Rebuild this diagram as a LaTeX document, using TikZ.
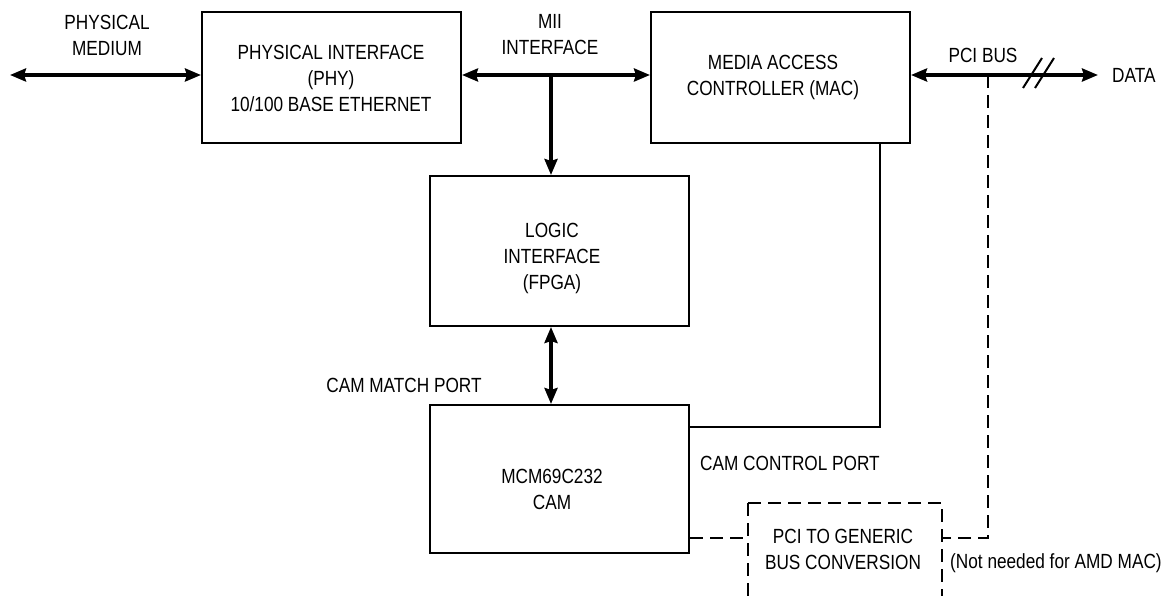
\documentclass[tikz,border=0pt]{standalone}
\usepackage{fontspec}
\setmainfont[FakeStretch=0.84]{Liberation Sans}
\usetikzlibrary{arrows.meta}
\begin{document}
\begin{tikzpicture}[x=1pt,y=-1pt,
  every node/.style={font=\fontsize{20.5}{26}\selectfont, inner sep=0pt},
  >={Stealth[length=16pt,width=13pt,inset=2pt]},
  box/.style={draw, line width=2pt, minimum width=259pt, minimum height=131pt, align=center},
  bus/.style={line width=4pt},
  wire/.style={line width=2pt},
  dwire/.style={line width=2pt, dash pattern=on 13pt off 7pt},
  lbl/.style={align=center}]
\useasboundingbox (0,0) rectangle (1176,596);

% blocks
\node[box] (phy) at (331.5,77.5) {};
\node[box] (mac) at (780.5,77.5) {};
\node[box, minimum height=150pt] (logic) at (559.5,251) {};
\node[box, minimum height=148pt] (cam) at (559.5,479) {};

% block texts
\node[lbl] (phyT) at (331,78) {PHYSICAL INTERFACE\\(PHY)\\10/100 BASE ETHERNET};
\node[lbl] (macT) at (773,77) {MEDIA ACCESS\\CONTROLLER (MAC)};
\node[lbl] (logicT) at (552,258) {LOGIC\\INTERFACE\\(FPGA)};
\node[lbl] (camT) at (552,489) {MCM69C232\\CAM};

% dashed conversion block
\draw[dwire] (748,503) -- (748,596);
\draw[dwire] (748,503) -- (942,503) -- (942,596);
\coordinate (convL) at (748,538);
\coordinate (convR) at (942,538);
\node[lbl] (convT) at (843,549) {PCI TO GENERIC\\BUS CONVERSION};

% coordinates
\coordinate (pmEnd) at (10,75);
\coordinate (miiJ) at (551,75);
\coordinate (data) at (1098,75);
\coordinate (pciJ) at (988,75);
\coordinate (ctlX) at (880,427);

% connectors
\draw[bus,<->] (pmEnd) -- (phy.west |- pmEnd);
\draw[bus,<->] (phy.east |- miiJ) -- (mac.west |- miiJ);
\draw[bus,->] (miiJ) -- (miiJ |- logic.north);
\draw[bus,<->] (logic.south -| miiJ) -- (cam.north -| miiJ);
\draw[wire] (cam.east |- ctlX) -- (ctlX) -- (ctlX |- mac.south);
\draw[bus,<->] (mac.east |- data) -- (data);
\draw[wire] (1023,88) -- (1042,58);
\draw[wire] (1035,88) -- (1054,58);
\draw[dwire] (pciJ) |- (convR);
\draw[dwire] (cam.east |- convL) -- (convL);

% labels
\node[lbl] (pmT) at (107,35) {PHYSICAL\\MEDIUM};
\node[lbl] (miiT) at (550,35) {MII\\INTERFACE};
\node (pciT) at (983,55) {PCI BUS};
\node[anchor=west] (dataT) at (1112,75) {DATA};
\node (matchT) at (404,385) {CAM MATCH PORT};
\node[anchor=west] (ctlT) at (700,463) {CAM CONTROL PORT};
\node[anchor=west] (noteT) at (950,563) {(Not needed for AMD MAC)};
\end{tikzpicture}
\end{document}
